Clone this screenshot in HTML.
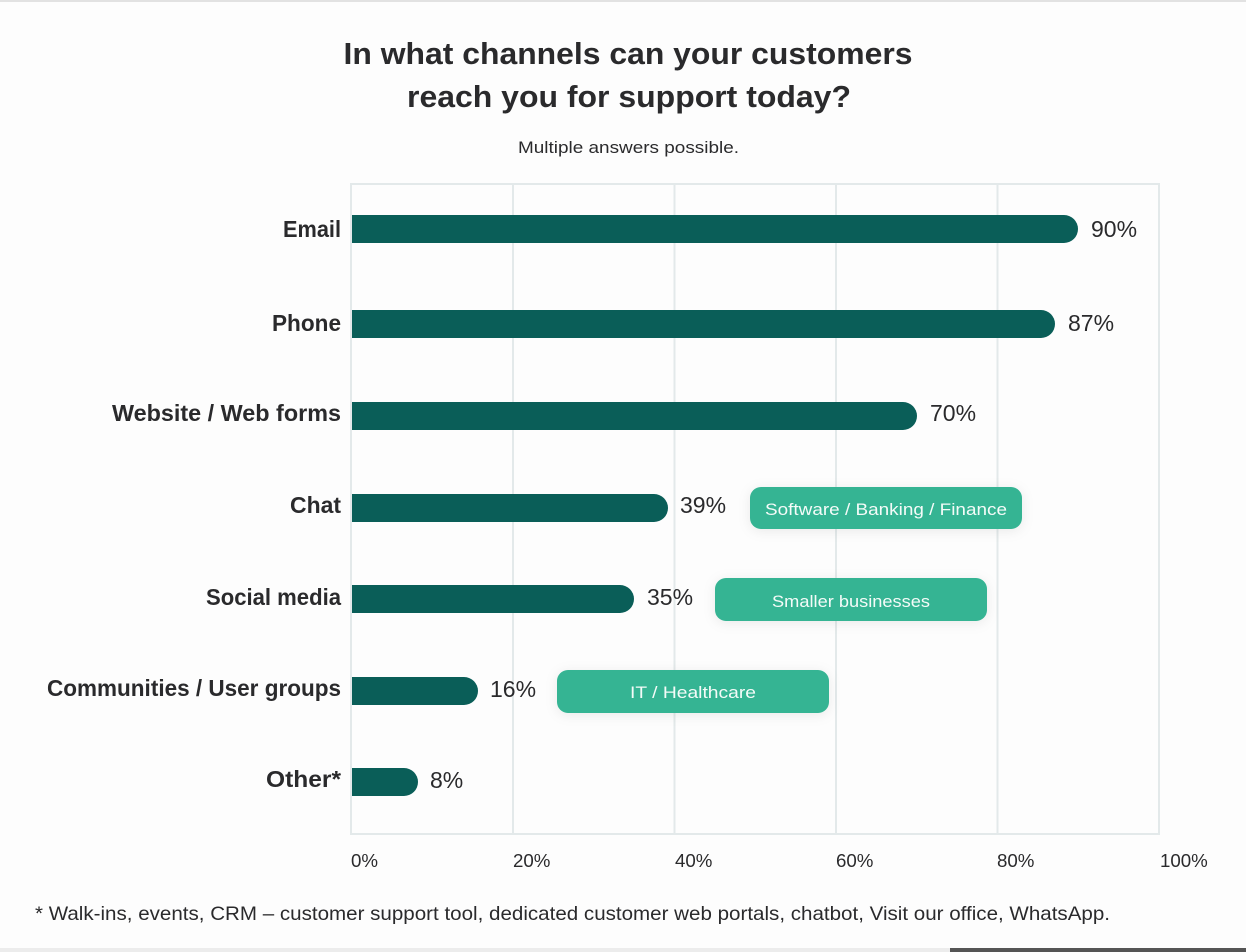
<!DOCTYPE html>
<html><head><meta charset="utf-8"><style>
html,body{margin:0;padding:0;background:#fff;}
svg{display:block;}
text{font-family:"Liberation Sans",sans-serif;fill:#2a2a2c;}
</style></head><body>
<svg width="1246" height="952" viewBox="0 0 1246 952" xmlns="http://www.w3.org/2000/svg">
<defs>
<filter id="sh" x="-20%" y="-50%" width="140%" height="200%"><feDropShadow dx="0" dy="2" stdDeviation="6" flood-color="#000" flood-opacity="0.08"/></filter>
</defs>
<rect x="0" y="0" width="1246" height="952" fill="#fdfdfd"/>
<rect x="0" y="0" width="1246" height="2" fill="#e2e2e2"/>
<rect x="0" y="948" width="1246" height="4" fill="#ececec"/>
<rect x="950" y="948" width="296" height="4" fill="#555"/>

<text x="628" y="64" text-anchor="middle" font-size="31" font-weight="bold" textLength="569" lengthAdjust="spacingAndGlyphs">In what channels can your customers</text>
<text x="629" y="107" text-anchor="middle" font-size="31" font-weight="bold" textLength="444" lengthAdjust="spacingAndGlyphs">reach you for support today?</text>
<text x="628.5" y="153" text-anchor="middle" font-size="17" textLength="221" lengthAdjust="spacingAndGlyphs">Multiple answers possible.</text>

<!-- grid -->
<g stroke="#e3e9ea" stroke-width="2" fill="none">
<line x1="513" y1="184" x2="513" y2="834"/>
<line x1="674.5" y1="184" x2="674.5" y2="834"/>
<line x1="836" y1="184" x2="836" y2="834"/>
<line x1="997.5" y1="184" x2="997.5" y2="834"/>
<rect x="351" y="184" width="808" height="650"/>
</g>

<!-- bars -->
<g fill="#0a5e58">
<path d="M352 215 H1064 A14 14 0 0 1 1064 243 H352 Z"/>
<path d="M352 310 H1041 A14 14 0 0 1 1041 338 H352 Z"/>
<path d="M352 402 H903 A14 14 0 0 1 903 430 H352 Z"/>
<path d="M352 494 H654 A14 14 0 0 1 654 522 H352 Z"/>
<path d="M352 585 H620 A14 14 0 0 1 620 613 H352 Z"/>
<path d="M352 677 H464 A14 14 0 0 1 464 705 H352 Z"/>
<path d="M352 768 H404 A14 14 0 0 1 404 796 H352 Z"/>
</g>

<!-- category labels -->
<g font-size="23" font-weight="bold" text-anchor="end">
<text x="341" y="237" textLength="58" lengthAdjust="spacingAndGlyphs">Email</text>
<text x="341" y="331" textLength="69" lengthAdjust="spacingAndGlyphs">Phone</text>
<text x="341" y="421" textLength="229" lengthAdjust="spacingAndGlyphs">Website / Web forms</text>
<text x="341" y="513" textLength="51" lengthAdjust="spacingAndGlyphs">Chat</text>
<text x="341" y="605" textLength="135" lengthAdjust="spacingAndGlyphs">Social media</text>
<text x="341" y="696" textLength="294" lengthAdjust="spacingAndGlyphs">Communities / User groups</text>
<text x="341" y="787" textLength="75" lengthAdjust="spacingAndGlyphs">Other*</text>
</g>

<!-- value labels -->
<g font-size="23">
<text x="1091" y="237">90%</text>
<text x="1068" y="331">87%</text>
<text x="930" y="421">70%</text>
<text x="680" y="513">39%</text>
<text x="647" y="605">35%</text>
<text x="490" y="697">16%</text>
<text x="430" y="788">8%</text>
</g>

<!-- badges -->
<g filter="url(#sh)" fill="#34b493">
<rect x="750" y="487" width="272" height="42" rx="11"/>
<rect x="715" y="578" width="272" height="43" rx="11"/>
<rect x="557" y="670" width="272" height="43" rx="11"/>
</g>
<g font-size="17" text-anchor="middle">
<text x="886" y="515" style="fill:#f4fbf8" textLength="242" lengthAdjust="spacingAndGlyphs">Software / Banking / Finance</text>
<text x="851" y="607" style="fill:#f4fbf8" textLength="158" lengthAdjust="spacingAndGlyphs">Smaller businesses</text>
<text x="693" y="698" style="fill:#f4fbf8" textLength="126" lengthAdjust="spacingAndGlyphs">IT / Healthcare</text>
</g>

<!-- axis ticks -->
<g font-size="18.7">
<text x="351" y="867">0%</text>
<text x="513" y="867">20%</text>
<text x="675" y="867">40%</text>
<text x="836" y="867">60%</text>
<text x="997" y="867">80%</text>
<text x="1160" y="867">100%</text>
</g>

<text x="35" y="920" font-size="19.5" textLength="1075" lengthAdjust="spacingAndGlyphs">* Walk-ins, events, CRM – customer support tool, dedicated customer web portals, chatbot, Visit our office, WhatsApp.</text>
</svg>
</body></html>
